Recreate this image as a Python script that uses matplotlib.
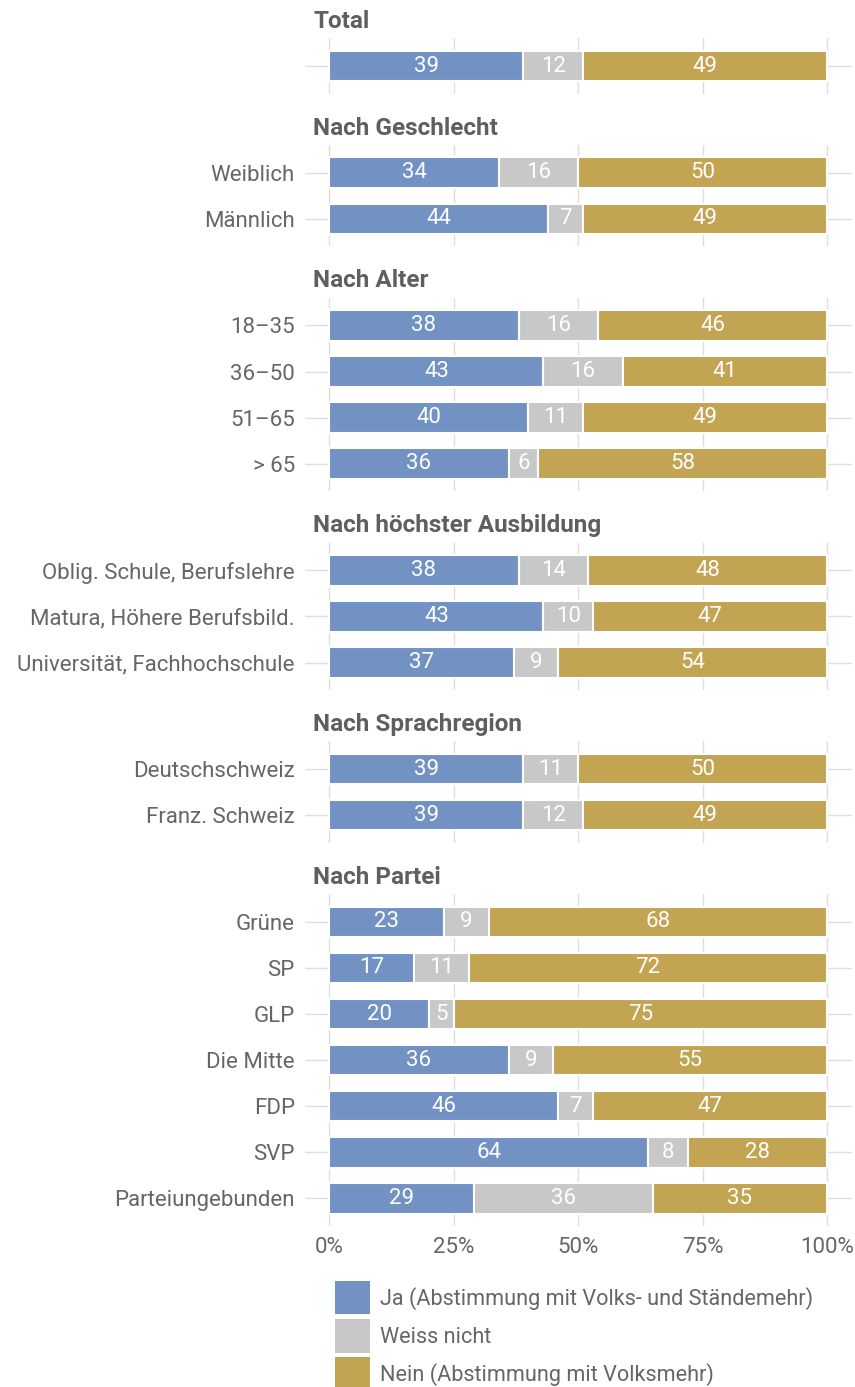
import matplotlib.pyplot as plt
from matplotlib.patches import Patch

# data
groups = ["Total", "Nach Geschlecht", "Nach Alter", "Nach höchster Ausbildung",
          "Nach Sprachregion", "Nach Partei"]
labels = [
    [""],
    ["Weiblich", "Männlich"],
    ["18–35", "36–50", "51–65", "> 65"],
    ["Oblig. Schule, Berufslehre", "Matura, Höhere Berufsbild.", "Universität, Fachhochschule"],
    ["Deutschschweiz", "Franz. Schweiz"],
    ["Grüne", "SP", "GLP", "Die Mitte", "FDP", "SVP", "Parteiungebunden"],
]
ja = [[39], [34, 44], [38, 43, 40, 36], [38, 43, 37], [39, 39],
      [23, 17, 20, 36, 46, 64, 29]]
weiss = [[12], [16, 7], [16, 16, 11, 6], [14, 10, 9], [11, 12],
         [9, 11, 5, 9, 7, 8, 36]]
nein = [[49], [50, 49], [46, 41, 49, 58], [48, 47, 54], [50, 49],
        [68, 72, 75, 55, 47, 28, 35]]
series_names = ["Ja (Abstimmung mit Volks- und Ständemehr)", "Weiss nicht",
                "Nein (Abstimmung mit Volksmehr)"]
colors = ["#7292C3", "#C8C8C8", "#C3A452"]

TEXT = "#666666"
GRID = "#DEDEDE"
plt.rcParams['font.family'] = ['Roboto', 'DejaVu Sans']
FS = 16

W, H = 855, 1387
fig = plt.figure(figsize=(W / 100, H / 100), dpi=100)

row = 46.1
gap = 51.3
left_px, right_px = 304.6, 851.8
top = 38.4

axes = []
for gi, g in enumerate(groups):
    n = len(labels[gi])
    h = (n + 0.2) * row
    ax = fig.add_axes([left_px / W, 1 - (top + h) / H, (right_px - left_px) / W, h / H])
    axes.append(ax)
    y = list(range(n))
    lefts = [0] * n
    for vals, c in zip([ja[gi], weiss[gi], nein[gi]], colors):
        bars = ax.barh(y, vals, left=lefts, height=0.66, color=c,
                       edgecolor="white", linewidth=1.5, zorder=3)
        for b, v in zip(bars, vals):
            ax.text(b.get_x() + b.get_width() / 2, b.get_y() + b.get_height() / 2,
                    str(v), ha="center", va="center", color="white", fontsize=FS,
                    zorder=4)
        lefts = [a + b for a, b in zip(lefts, vals)]
    ax.set_xlim(-5, 105)
    ax.set_ylim(n - 1 + 0.6, -0.6)
    ax.set_yticks(y)
    ax.set_yticklabels(labels[gi])
    ax.set_xticks([0, 25, 50, 75, 100])
    ax.grid(True, color=GRID, linewidth=1.0, zorder=0)
    ax.set_axisbelow(True)
    for s in ax.spines.values():
        s.set_visible(False)
    ax.tick_params(length=0, labelsize=FS, labelcolor=TEXT, pad=7)
    if gi < len(groups) - 1:
        ax.tick_params(axis="x", labelbottom=False)
    else:
        ax.set_xticklabels(["0%", "25%", "50%", "75%", "100%"])
        ax.tick_params(axis="x", pad=8)
    fig.text(313 / W, 1 - (top - 17) / H, g, ha="left", va="center",
             fontsize=17.5, fontweight="bold", color="#5f5f5f")
    top = top + h + gap

handles = [Patch(facecolor=c, edgecolor="none") for c in colors]
fig.legend(handles, series_names, loc="upper left",
           bbox_to_anchor=(335 / W, 1 - 1281 / H), frameon=False, fontsize=15.6,
           handlelength=1.6, handleheight=2.0, handletextpad=0.5,
           labelspacing=0.22, borderpad=0, borderaxespad=0, labelcolor=TEXT)

fig.savefig("out.png", dpi=100)
